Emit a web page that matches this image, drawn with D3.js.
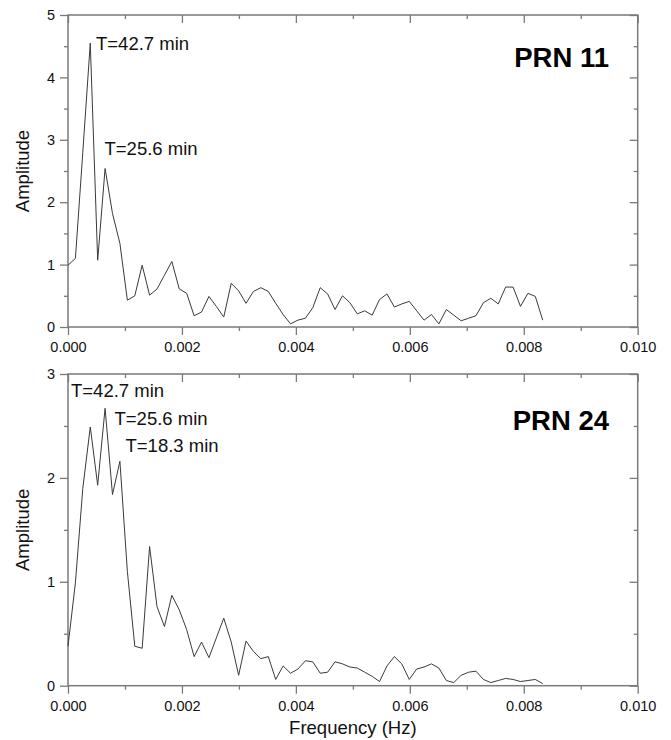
<!DOCTYPE html>
<html>
<head>
<meta charset="utf-8">
<script src="https://cdn.jsdelivr.net/npm/d3@7"></script>
<style>
  html, body { margin: 0; padding: 0; background: #fff; }
  svg { display: block; font-family: "Liberation Sans", Arial, sans-serif; }
</style>
</head>
<body>
<svg id="chart" width="671" height="740"></svg>
<script>
// FFT bin frequencies (Hz)
const frequencies = [
  0.000000, 0.000130, 0.000260, 0.000391, 0.000521, 0.000651, 0.000781, 0.000911,
  0.001042, 0.001172, 0.001302, 0.001432, 0.001563, 0.001693, 0.001823, 0.001953,
  0.002083, 0.002214, 0.002344, 0.002474, 0.002604, 0.002734, 0.002865, 0.002995,
  0.003125, 0.003255, 0.003385, 0.003516, 0.003646, 0.003776, 0.003906, 0.004036,
  0.004167, 0.004297, 0.004427, 0.004557, 0.004688, 0.004818, 0.004948, 0.005078,
  0.005208, 0.005339, 0.005469, 0.005599, 0.005729, 0.005859, 0.005990, 0.006120,
  0.006250, 0.006380, 0.006510, 0.006641, 0.006771, 0.006901, 0.007031, 0.007161,
  0.007292, 0.007422, 0.007552, 0.007682, 0.007813, 0.007943, 0.008073, 0.008203,
  0.008333
];

// Spectral amplitude, PRN 11
const amplitudePRN11 = [
  0.99, 1.10, 2.80, 4.55, 1.07, 2.54, 1.82, 1.34,
  0.43, 0.50, 0.99, 0.51, 0.61, 0.83, 1.05, 0.61,
  0.54, 0.18, 0.24, 0.49, 0.33, 0.16, 0.70, 0.58,
  0.38, 0.57, 0.63, 0.57, 0.38, 0.20, 0.05, 0.11,
  0.14, 0.31, 0.63, 0.53, 0.28, 0.50, 0.39, 0.21,
  0.26, 0.19, 0.44, 0.53, 0.32, 0.37, 0.41, 0.26,
  0.11, 0.20, 0.05, 0.28, 0.19, 0.10, 0.14, 0.18,
  0.39, 0.46, 0.37, 0.64, 0.64, 0.33, 0.54, 0.49,
  0.11
];

// Spectral amplitude, PRN 24
const amplitudePRN24 = [
  0.38, 0.99, 1.90, 2.49, 1.93, 2.67, 1.84, 2.16,
  1.10, 0.38, 0.36, 1.34, 0.76, 0.57, 0.87, 0.73,
  0.54, 0.28, 0.42, 0.27, 0.46, 0.65, 0.42, 0.10,
  0.43, 0.33, 0.26, 0.28, 0.06, 0.19, 0.12, 0.16,
  0.24, 0.23, 0.12, 0.13, 0.23, 0.21, 0.18, 0.17,
  0.13, 0.09, 0.04, 0.19, 0.28, 0.21, 0.06, 0.16,
  0.18, 0.21, 0.17, 0.05, 0.03, 0.10, 0.13, 0.14,
  0.06, 0.03, 0.05, 0.07, 0.06, 0.04, 0.05, 0.06,
  0.02
];

// Axis ticks
const xMajorTicks = [0, 0.002, 0.004, 0.006, 0.008, 0.010];
const xMinorTicks = [0.001, 0.003, 0.005, 0.007, 0.009];
const yMajorTicksPRN11 = [0, 1, 2, 3, 4, 5];
const yMinorTicksPRN11 = [0.5, 1.5, 2.5, 3.5, 4.5];
const yMajorTicksPRN24 = [0, 1, 2, 3];
const yMinorTicksPRN24 = [0.5, 1.5, 2.5];

// Peak annotations: label and the bin index of the peak it names
const peaksPRN11 = [
  { label: "T=42.7 min", bin: 3 },
  { label: "T=25.6 min", bin: 5 }
];
const peaksPRN24 = [
  { label: "T=42.7 min", bin: 3 },
  { label: "T=25.6 min", bin: 5 },
  { label: "T=18.3 min", bin: 7 }
];

const svg = d3.select("#chart");
const axisColor = "#7a7a7a";
const lineColor = "#3a3a3a";
const left = 68, right = 637.7;

const x = d3.scaleLinear().domain([0, 0.010]).range([left, right]);

function panel(cfg) {
  const y = d3.scaleLinear().domain([0, cfg.yMax]).range([cfg.bottom, cfg.top]);
  const g = svg.append("g");

  const fmtX = d3.format(".3f");

  // frame
  g.append("rect")
    .attr("x", left).attr("y", cfg.top)
    .attr("width", right - left).attr("height", cfg.bottom - cfg.top)
    .attr("fill", "none").attr("stroke", axisColor).attr("stroke-width", 1.5);

  function styleAxis(sel) {
    sel.select(".domain").remove();
    sel.selectAll(".tick line").attr("stroke", axisColor).attr("stroke-width", 1.3);
    sel.selectAll(".tick text")
      .attr("fill", "#111")
      .style("font-size", "14.5px")
      .style("font-family", "'Liberation Sans', Arial, sans-serif");
  }

  // bottom axis (outward ticks, labelled)
  g.append("g").attr("transform", `translate(0,${cfg.bottom})`)
    .call(d3.axisBottom(x).tickValues(xMajorTicks).tickSize(8).tickPadding(7).tickFormat(fmtX))
    .call(styleAxis);
  g.append("g").attr("transform", `translate(0,${cfg.bottom})`)
    .call(d3.axisBottom(x).tickValues(xMinorTicks).tickSize(4).tickFormat(""))
    .call(styleAxis);

  // top axis (inward ticks)
  g.append("g").attr("transform", `translate(0,${cfg.top})`)
    .call(d3.axisBottom(x).tickValues(xMajorTicks).tickSize(8).tickFormat(""))
    .call(styleAxis);
  g.append("g").attr("transform", `translate(0,${cfg.top})`)
    .call(d3.axisBottom(x).tickValues(xMinorTicks).tickSize(4).tickFormat(""))
    .call(styleAxis);

  // left axis (outward ticks, labelled)
  g.append("g").attr("transform", `translate(${left},0)`)
    .call(d3.axisLeft(y).tickValues(cfg.yMajor).tickSize(8).tickPadding(5).tickFormat(d3.format("d")))
    .call(styleAxis);
  g.append("g").attr("transform", `translate(${left},0)`)
    .call(d3.axisLeft(y).tickValues(cfg.yMinor).tickSize(4).tickFormat(""))
    .call(styleAxis);

  // right axis (inward ticks)
  g.append("g").attr("transform", `translate(${right},0)`)
    .call(d3.axisLeft(y).tickValues(cfg.yMajor).tickSize(8).tickFormat(""))
    .call(styleAxis);
  g.append("g").attr("transform", `translate(${right},0)`)
    .call(d3.axisLeft(y).tickValues(cfg.yMinor).tickSize(4).tickFormat(""))
    .call(styleAxis);

  // spectrum line
  const line = d3.line()
    .x((d, i) => x(frequencies[i]))
    .y(d => y(d));
  g.append("path")
    .datum(cfg.values)
    .attr("d", line)
    .attr("fill", "none")
    .attr("stroke", lineColor)
    .attr("stroke-width", 1)
    .attr("stroke-linejoin", "miter");

  // y axis title
  g.append("text")
    .attr("transform", `translate(29,${(cfg.top + cfg.bottom) / 2}) rotate(-90)`)
    .attr("text-anchor", "middle")
    .style("font-size", "18.5px")
    .attr("fill", "#111")
    .text("Amplitude");

  // peak labels
  cfg.peaks.forEach((p, i) => {
    const pos = cfg.labelPos[i];
    g.append("text")
      .attr("x", pos[0]).attr("y", pos[1])
      .style("font-size", "18.5px")
      .attr("fill", "#111")
      .text(p.label);
  });

  // satellite label
  g.append("text")
    .attr("x", 609).attr("y", cfg.titleY)
    .attr("text-anchor", "end")
    .style("font-size", "27.5px")
    .style("font-weight", "bold")
    .attr("fill", "#000")
    .text(cfg.title);

  return y;
}

panel({
  top: 15, bottom: 327, yMax: 5,
  yMajor: yMajorTicksPRN11, yMinor: yMinorTicksPRN11,
  values: amplitudePRN11, peaks: peaksPRN11,
  labelPos: [[96, 50], [104.5, 155]],
  title: "PRN 11", titleY: 66.7
});

panel({
  top: 374, bottom: 685.7, yMax: 3,
  yMajor: yMajorTicksPRN24, yMinor: yMinorTicksPRN24,
  values: amplitudePRN24, peaks: peaksPRN24,
  labelPos: [[71, 397], [114.5, 425], [125.5, 451.7]],
  title: "PRN 24", titleY: 430
});

// x axis title
svg.append("text")
  .attr("x", (left + right) / 2).attr("y", 734)
  .attr("text-anchor", "middle")
  .style("font-size", "18.5px")
  .attr("fill", "#111")
  .text("Frequency (Hz)");
</script>
</body>
</html>
